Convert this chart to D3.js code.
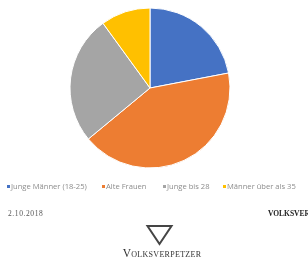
<!DOCTYPE html>
<html>
<head>
<meta charset="utf-8">
<script src="https://cdn.jsdelivr.net/npm/d3@7"></script>
<style>
  body { margin: 0; background: #fff; }
</style>
</head>
<body>
<script>
const categories = ["Junge Männer (18-25)", "Alte Frauen", "Junge bis 28", "Männer über als 35"]
const values = [22, 42, 26, 10]
const colors = ["#4472C4", "#ED7D31", "#A5A5A5", "#FFC000"]
const legendX = [6, 101, 162, 222]

const svg = d3.select("body")
    .append("svg")
    .attr("width", 308)
    .attr("height", 264)

const defs = svg.append("defs")
defs.append("filter").attr("id", "soft")
    .append("feGaussianBlur").attr("stdDeviation", 0.5)

const pie = d3.pie().sort(null).value(function(d) { return d })
const arc = d3.arc().innerRadius(0).outerRadius(80)

const colorScale = d3.scaleOrdinal()
    .domain(categories)
    .range(colors)

svg.append("g")
    .attr("transform", "translate(150,88)")
    .attr("filter", "url(#soft)")
    .selectAll("path")
    .data(pie(values)).enter()
    .append("path")
    .attr("d", arc)
    .attr("fill", function(d, i) { return colorScale(categories[i]) })
    .attr("stroke", "#fff")
    .attr("stroke-width", 1)

// legend
const legend = svg.append("g").attr("filter", "url(#soft)")
const items = legend.selectAll("g")
    .data(categories).enter()
    .append("g")
    .attr("transform", function(d, i) { return "translate(" + legendX[i] + ",188)" })
items.append("rect")
    .attr("x", 1).attr("y", -3)
    .attr("width", 3).attr("height", 3)
    .attr("fill", function(d) { return colorScale(d) })
items.append("text")
    .attr("x", 5).attr("y", 1)
    .text(function(d) { return d })
    .attr("font-family", "Open Sans, sans-serif")
    .attr("font-size", "7.6px")
    .attr("fill", "#8c8c8c")

// footer
const foot = svg.append("g").attr("filter", "url(#soft)")
foot.append("text")
    .attr("x", 8).attr("y", 216)
    .text("2.10.2018")
    .attr("font-family", "Liberation Serif, serif")
    .attr("font-size", "7.5px")
    .attr("letter-spacing", "0.6px")
    .attr("fill", "#555")
foot.append("text")
    .attr("x", 268).attr("y", 216)
    .text("VOLKSVERPETZER")
    .attr("font-family", "Liberation Serif, serif")
    .attr("font-weight", "bold")
    .attr("font-size", "7.5px")
    .attr("fill", "#222")

foot.append("path")
    .attr("d", "M147.5,226 L171.5,226 L159.5,244 Z")
    .attr("fill", "none")
    .attr("stroke", "#444")
    .attr("stroke-width", 2)
foot.append("text")
    .attr("x", 162).attr("y", 257)
    .attr("text-anchor", "middle")
    .text("Volksverpetzer")
    .attr("font-family", "Liberation Serif, serif")
    .attr("font-variant", "small-caps")
    .attr("font-size", "11.5px")
    .attr("letter-spacing", "0.3px")
    .attr("fill", "#333")
</script>
</body>
</html>
